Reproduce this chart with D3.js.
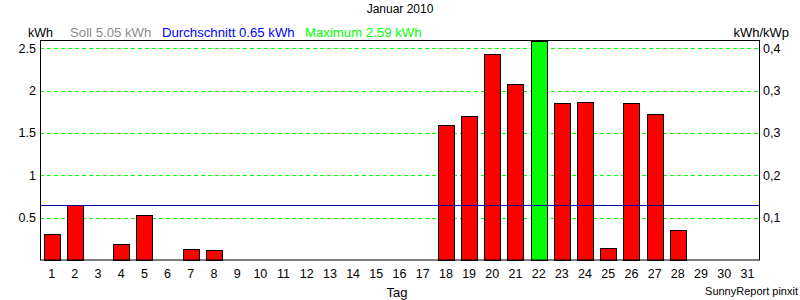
<!DOCTYPE html>
<html>
<head>
<meta charset="utf-8">
<script src="https://cdn.jsdelivr.net/npm/d3@7"></script>
<style>
  body { margin: 0; background: #fff; }
  svg { display: block; font-family: "Liberation Sans", Arial, sans-serif; }
</style>
</head>
<body>
<svg id="chart" width="800" height="300"></svg>
<script>
// chart data
const days = d3.range(1, 32).map(String);
const energy = [0.31, 0.65, 0, 0.19, 0.53, 0, 0.13, 0.12, 0, 0, 0, 0, 0, 0, 0, 0, 0,
  1.59, 1.70, 2.43, 2.08, 2.59, 1.85, 1.86, 0.14, 1.85, 1.72, 0.355, 0, 0, 0];
const leftTicks = [0.5, 1, 1.5, 2, 2.5];
const rightTickLabels = ["0,1", "0,2", "0,3", "0,3", "0,4"];
const average = 0.65;
const maximum = 2.59;
const legend = [
  { text: "Soll 5.05 kWh", color: "#8c8c8c", x: 70 },
  { text: "Durchschnitt 0.65 kWh", color: "#0000ff", x: 162 },
  { text: "Maximum 2.59 kWh", color: "#00ff00", x: 305 }
];

const svg = d3.select('#chart');
const margin = { left: 40, right: 41, top: 40.5, bottom: 40 };
const width = 800, height = 300;

const x = d3.scaleBand()
  .domain(days)
  .range([margin.left, width - margin.right])
  .paddingInner(0.31)
  .paddingOuter(0.155);

const y = d3.scaleLinear()
  .domain([0, maximum])
  .range([height - margin.bottom, margin.top]);

// grid lines
svg.append('g')
  .selectAll('line')
  .data(leftTicks)
  .enter()
  .append('line')
  .attr('x1', margin.left)
  .attr('x2', width - margin.right)
  .attr('y1', d => Math.round(y(d)) + 0.5)
  .attr('y2', d => Math.round(y(d)) + 0.5)
  .attr('stroke', '#00ff00')
  .attr('stroke-dasharray', '4,3');

// bars
svg.append('g')
  .selectAll('rect')
  .data(energy.map((v, i) => ({ day: days[i], v })).filter(d => d.v > 0))
  .enter()
  .append('rect')
  .attr('x', d => Math.round(x(d.day)) + 0.5)
  .attr('y', d => Math.round(y(d.v)) + 0.5)
  .attr('width', Math.round(x.bandwidth()))
  .attr('height', d => Math.round(y(0)) - Math.round(y(d.v)))
  .attr('fill', d => d.v === maximum ? '#00ff00' : '#ff0000')
  .attr('stroke', '#000')
  .attr('stroke-width', 1);

// average line
svg.append('line')
  .attr('x1', margin.left)
  .attr('x2', width - margin.right)
  .attr('y1', Math.round(y(average)) + 0.5)
  .attr('y2', Math.round(y(average)) + 0.5)
  .attr('stroke', '#0000a0');

// frame
svg.append('rect')
  .attr('x', margin.left + 0.5)
  .attr('y', margin.top)
  .attr('width', width - margin.left - margin.right)
  .attr('height', y(0) - margin.top)
  .attr('fill', 'none')
  .attr('stroke', '#000');

// left axis
const yAxis = d3.axisLeft(y).tickValues(leftTicks).tickSize(0).tickPadding(4)
  .tickFormat(d3.format('~g'));
svg.append('g')
  .attr('transform', `translate(${margin.left},0)`)
  .call(yAxis)
  .call(g => g.select('.domain').remove())
  .selectAll('text').attr('font-size', 12.5).attr('fill', '#000');

// right axis
const yRight = d3.axisRight(y).tickValues(leftTicks).tickSize(0).tickPadding(4)
  .tickFormat((d, i) => rightTickLabels[i]);
svg.append('g')
  .attr('transform', `translate(${width - margin.right},0)`)
  .call(yRight)
  .call(g => g.select('.domain').remove())
  .selectAll('text').attr('font-size', 12.5).attr('fill', '#000');

// bottom axis
const xAxis = d3.axisBottom(x).tickSize(0).tickPadding(9);
svg.append('g')
  .attr('transform', `translate(0,${y(0)})`)
  .call(xAxis)
  .call(g => g.select('.domain').remove())
  .selectAll('text').attr('font-size', 12.5).attr('fill', '#000');

// titles and legend
svg.append('text').attr('x', 400).attr('y', 13).attr('text-anchor', 'middle')
  .attr('font-size', 12).text('Januar 2010');
svg.append('text').attr('x', 28).attr('y', 37).attr('font-size', 12.5).text('kWh');
svg.append('text').attr('x', 789).attr('y', 37).attr('text-anchor', 'end')
  .attr('font-size', 13).text('kWh/kWp');
svg.append('g')
  .selectAll('text')
  .data(legend)
  .enter()
  .append('text')
  .attr('x', d => d.x)
  .attr('y', 37)
  .attr('font-size', 13.2)
  .attr('fill', d => d.color)
  .text(d => d.text);
svg.append('text').attr('x', 397).attr('y', 297).attr('text-anchor', 'middle')
  .attr('font-size', 13).text('Tag');
svg.append('text').attr('x', 798).attr('y', 295).attr('text-anchor', 'end')
  .attr('font-size', 11).text('SunnyReport pinxit');
</script>
</body>
</html>
